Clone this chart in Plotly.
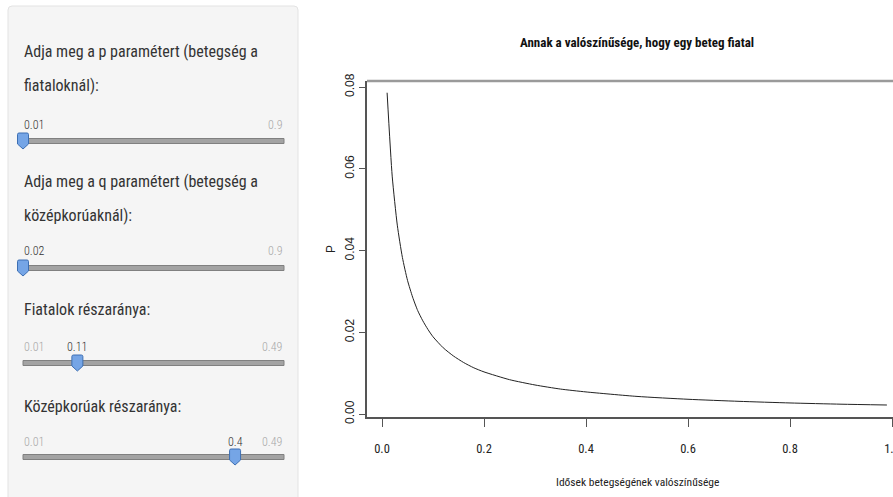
import plotly.graph_objects as go

# ---- data ----
old_prob = [0.01, 0.02, 0.03, 0.04, 0.05, 0.06, 0.07, 0.08, 0.09, 0.10,
            0.12, 0.14, 0.16, 0.18, 0.20, 0.25, 0.30, 0.35, 0.40, 0.50,
            0.60, 0.70, 0.80, 0.90, 0.99]
p_young = [0.0786, 0.0582, 0.0462, 0.0383, 0.0327, 0.0286, 0.0253, 0.0228, 0.0207, 0.0189,
           0.0162, 0.0142, 0.0126, 0.0113, 0.0103, 0.0084, 0.0071, 0.0061, 0.0054, 0.0043,
           0.0036, 0.0031, 0.0027, 0.0024, 0.0022]
x_ticks = [0.0, 0.2, 0.4, 0.6, 0.8, 1.0]
x_tick_labels = ["0.0", "0.2", "0.4", "0.6", "0.8", "1.0"]
y_ticks = [0.00, 0.02, 0.04, 0.06, 0.08]
y_tick_labels = ["0.00", "0.02", "0.04", "0.06", "0.08"]

slider_titles = [["Adja meg a p paramétert (betegség a", "fiataloknál):"],
                 ["Adja meg a q paramétert (betegség a", "középkorúaknál):"],
                 ["Fiatalok részaránya:"],
                 ["Középkorúak részaránya:"]]
slider_min = [0.01, 0.02, 0.01, 0.01]
slider_max = [0.9, 0.9, 0.49, 0.49]
slider_value = [0.01, 0.02, 0.11, 0.4]
slider_min_labels = ["0.01", "0.02", "0.01", "0.01"]
slider_max_labels = ["0.9", "0.9", "0.49", "0.49"]
slider_value_labels = ["0.01", "0.02", "0.11", "0.4"]

title = "Annak a valószínűsége, hogy egy beteg fiatal"
x_title = "Idősek betegségének valószínűsége"
y_title = "P"

# ---- layout helpers ----
W, H = 893, 497
def X(px): return px / W
def Y(py): return 1 - py / H

NARROW = "Roboto Condensed, Liberation Sans, Arial, sans-serif"
SANS = "Liberation Sans, Arial, sans-serif"

fig = go.Figure()
fig.add_trace(go.Scatter(x=old_prob, y=p_young, mode="lines",
                         line=dict(color="#222222", width=1, shape="spline", smoothing=0.6),
                         hoverinfo="skip", showlegend=False))

shapes = []
annotations = []

# sidebar panel
def rpath(x0, y0, x1, y1, r):
    return (f"M {X(x0+r)},{Y(y0)} L {X(x1-r)},{Y(y0)} Q {X(x1)},{Y(y0)} {X(x1)},{Y(y0+r)} "
            f"L {X(x1)},{Y(y1)} L {X(x0)},{Y(y1)} L {X(x0)},{Y(y0+r)} Q {X(x0)},{Y(y0)} {X(x0+r)},{Y(y0)} Z")
shapes.append(dict(type="path", xref="paper", yref="paper", path=rpath(8, 6, 298, 520, 4),
                   fillcolor="#f5f5f5", line=dict(color="#e3e3e3", width=1), layer="below"))

heading_y = [[51, 85], [181, 215], [309], [406]]
label_y = [125, 251, 347, 442]
track_y = [141, 268, 363, 457]
TX0, TX1 = 23, 284

for i in range(4):
    for txt, hy in zip(slider_titles[i], heading_y[i]):
        annotations.append(dict(text=txt, x=X(22), y=Y(hy), xref="paper", yref="paper",
                                xanchor="left", yanchor="middle", showarrow=False,
                                font=dict(family=NARROW, size=16, color="#333333")))
    ty = track_y[i]
    # track
    shapes.append(dict(type="rect", xref="paper", yref="paper",
                       x0=X(TX0), x1=X(TX1), y0=Y(ty - 2.5), y1=Y(ty + 2.5),
                       fillcolor="#a3a3a3", line=dict(color="#808080", width=1)))
    frac = (slider_value[i] - slider_min[i]) / (slider_max[i] - slider_min[i])
    hx = TX0 + frac * (TX1 - TX0)
    lab_font_val = dict(family=NARROW, size=12, color="#333333", weight=300)
    lab_font_lim = dict(family=NARROW, size=12, color="#a8a8a8", weight=300)
    at_min = frac < 1e-9
    if not at_min:
        annotations.append(dict(text=slider_min_labels[i], x=X(TX0 - 1), y=Y(label_y[i]), xref="paper", yref="paper",
                                xanchor="left", yanchor="middle", showarrow=False, font=lab_font_lim))
        annotations.append(dict(text=slider_value_labels[i], x=X(hx), y=Y(label_y[i]), xref="paper", yref="paper",
                                xanchor="center", yanchor="middle", showarrow=False, font=lab_font_val))
    else:
        annotations.append(dict(text=slider_value_labels[i], x=X(TX0 - 1), y=Y(label_y[i]), xref="paper", yref="paper",
                                xanchor="left", yanchor="middle", showarrow=False, font=lab_font_val))
    annotations.append(dict(text=slider_max_labels[i], x=X(TX1 + 1), y=Y(label_y[i]), xref="paper", yref="paper",
                            xanchor="right", yanchor="middle", showarrow=False, font=lab_font_lim))
    # handle (pin)
    hw = 5.5
    top, body, tip = ty - 8, ty + 3, ty + 8
    path = (f"M {X(hx-hw+1.5)},{Y(top)} L {X(hx+hw-1.5)},{Y(top)} Q {X(hx+hw)},{Y(top)} {X(hx+hw)},{Y(top+1.5)} "
            f"L {X(hx+hw)},{Y(body)} L {X(hx)},{Y(tip)} L {X(hx-hw)},{Y(body)} "
            f"L {X(hx-hw)},{Y(top+1.5)} Q {X(hx-hw)},{Y(top)} {X(hx-hw+1.5)},{Y(top)} Z")
    shapes.append(dict(type="path", xref="paper", yref="paper", path=path,
                       fillcolor="#75a5e6", line=dict(color="#3d6fb3", width=1)))

# plot box top line
shapes.append(dict(type="line", xref="x domain", yref="y domain", x0=0, x1=1, y0=1, y1=1,
                   line=dict(color="#9a9a9a", width=2.5)))

# titles
annotations.append(dict(text="<b>" + title + "</b>", x=X(637), y=Y(42), xref="paper", yref="paper",
                        xanchor="center", yanchor="middle", showarrow=False,
                        font=dict(family=NARROW, size=13, color="#111111")))
annotations.append(dict(text=x_title, x=X(637), y=Y(482), xref="paper", yref="paper",
                        xanchor="center", yanchor="middle", showarrow=False,
                        font=dict(family=NARROW, size=11.5, color="#222222")))
annotations.append(dict(text=y_title, x=X(331), y=Y(249), xref="paper", yref="paper",
                        xanchor="center", yanchor="middle", showarrow=False, textangle=-90,
                        font=dict(family=SANS, size=12, color="#222222")))

# axis geometry
px_per_x = 510.0   # pixels per 1.0 on x
x0_px = 382.0      # pixel of x=0
dom_x0, dom_x1 = 367, 893
xr = [(dom_x0 - x0_px) / px_per_x, (dom_x1 - x0_px) / px_per_x]
px_per_y = 327.0 / 0.08
y0_px = 414.0
dom_y0, dom_y1 = 81, 417
yr = [(y0_px - dom_y1) / px_per_y, (y0_px - dom_y0) / px_per_y]

fig.update_layout(
    width=W, height=H, margin=dict(l=0, r=0, t=0, b=0, pad=0, autoexpand=False),
    paper_bgcolor="white", plot_bgcolor="white",
    shapes=shapes, annotations=annotations, showlegend=False,
    xaxis=dict(domain=[X(dom_x0), 1], range=xr, showgrid=False, zeroline=False, automargin=False,
               showline=True, linecolor="#555555", linewidth=1.5, mirror=False,
               tickmode="array", tickvals=x_ticks, ticktext=x_tick_labels,
               ticks="outside", ticklen=8, tickcolor="#555555", tickwidth=1,
               ticklabeloverflow="allow",
               tickfont=dict(family=NARROW, size=12.5, color="#222222"), ticklabelstandoff=11),
    yaxis=dict(domain=[Y(dom_y1), Y(dom_y0)], range=yr, showgrid=False, zeroline=False, automargin=False,
               showline=True, linecolor="#555555", linewidth=1.5, mirror=False,
               tickmode="array", tickvals=y_ticks, ticktext=y_tick_labels,
               ticks="outside", ticklen=6, tickcolor="#555555", tickwidth=1, tickangle=-90,
               tickfont=dict(family=SANS, size=12, color="#222222")),
)

fig.write_html("out.html", config={"displayModeBar": False},
               post_script="document.body.style.margin='0';")
